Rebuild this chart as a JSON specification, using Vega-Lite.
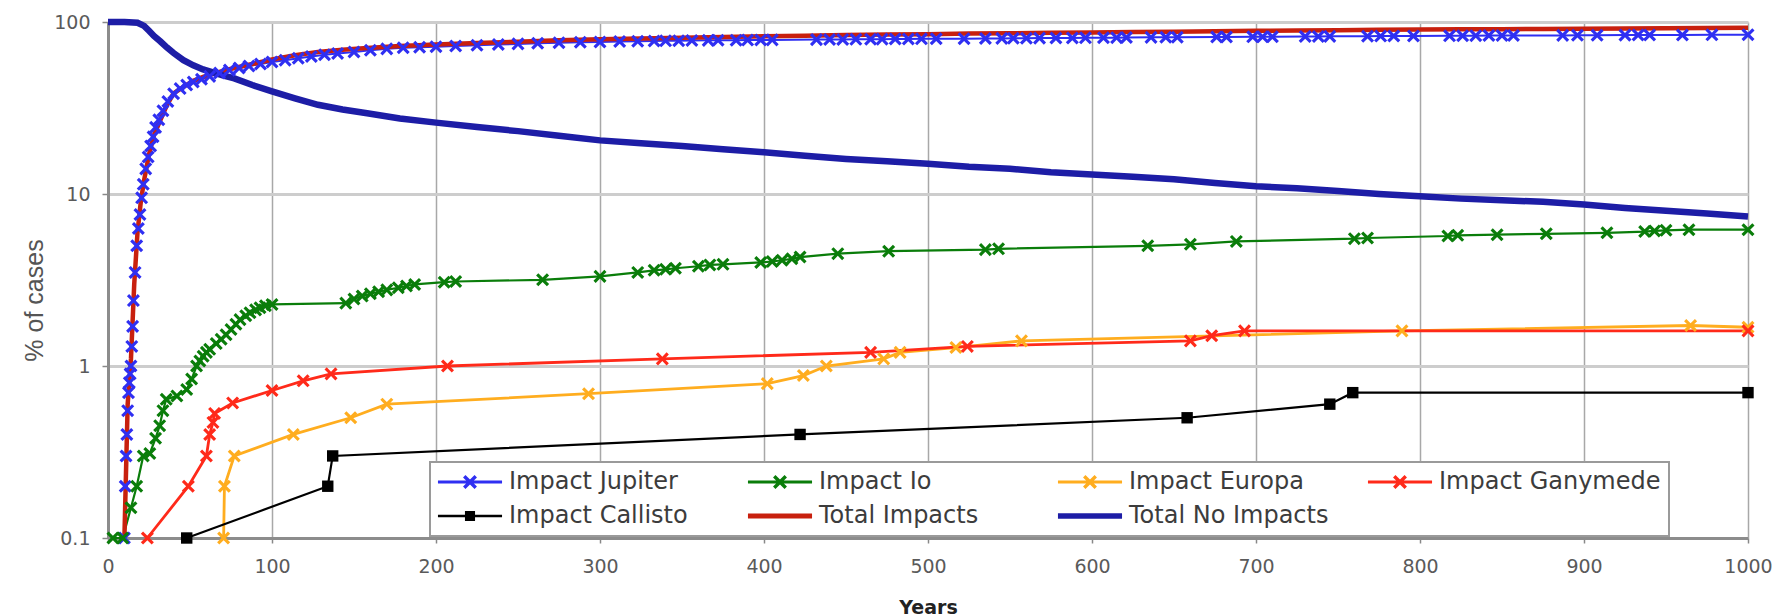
{
  "$schema": "https://vega.github.io/schema/vega-lite/v6.json",
  "autosize": "none",
  "width": 1640,
  "height": 516,
  "padding": {"left": 108, "top": 22, "right": 38, "bottom": 78},
  "background": "white",
  "config": {"view": {"stroke": null}},
  "data": {"values": [
    {"series":"Impact Jupiter","year":10,"pct":0.1},{"series":"Impact Jupiter","year":10.5,"pct":0.2},{"series":"Impact Jupiter","year":11,"pct":0.3},{"series":"Impact Jupiter","year":11.5,"pct":0.4},{"series":"Impact Jupiter","year":12,"pct":0.55},{"series":"Impact Jupiter","year":12.5,"pct":0.7},{"series":"Impact Jupiter","year":13,"pct":0.8},{"series":"Impact Jupiter","year":13.5,"pct":0.9},{"series":"Impact Jupiter","year":14,"pct":1.0},{"series":"Impact Jupiter","year":14.5,"pct":1.3},{"series":"Impact Jupiter","year":15,"pct":1.7},{"series":"Impact Jupiter","year":15.5,"pct":2.4},{"series":"Impact Jupiter","year":16.5,"pct":3.5},{"series":"Impact Jupiter","year":17.5,"pct":5},{"series":"Impact Jupiter","year":18.5,"pct":6.3},{"series":"Impact Jupiter","year":19.5,"pct":7.6},{"series":"Impact Jupiter","year":20.5,"pct":9.5},{"series":"Impact Jupiter","year":21.5,"pct":11.4},{"series":"Impact Jupiter","year":23,"pct":14},{"series":"Impact Jupiter","year":24.5,"pct":16.4},{"series":"Impact Jupiter","year":26,"pct":19},{"series":"Impact Jupiter","year":27.5,"pct":21.5},{"series":"Impact Jupiter","year":29,"pct":24.4},{"series":"Impact Jupiter","year":31,"pct":27},{"series":"Impact Jupiter","year":33.5,"pct":30.5},{"series":"Impact Jupiter","year":36.5,"pct":34.5},{"series":"Impact Jupiter","year":40,"pct":38.3},{"series":"Impact Jupiter","year":44,"pct":41},{"series":"Impact Jupiter","year":48,"pct":43},{"series":"Impact Jupiter","year":52,"pct":44.8},{"series":"Impact Jupiter","year":57,"pct":46.5},{"series":"Impact Jupiter","year":62,"pct":48.3},{"series":"Impact Jupiter","year":68,"pct":50.5},{"series":"Impact Jupiter","year":74,"pct":52.5},{"series":"Impact Jupiter","year":80,"pct":54},{"series":"Impact Jupiter","year":86,"pct":55.5},{"series":"Impact Jupiter","year":93,"pct":57},{"series":"Impact Jupiter","year":100,"pct":58.5},{"series":"Impact Jupiter","year":108,"pct":60},{"series":"Impact Jupiter","year":116,"pct":61.5},{"series":"Impact Jupiter","year":124,"pct":63},{"series":"Impact Jupiter","year":132,"pct":64.5},{"series":"Impact Jupiter","year":140,"pct":65.6},{"series":"Impact Jupiter","year":150,"pct":67},{"series":"Impact Jupiter","year":160,"pct":68.5},{"series":"Impact Jupiter","year":170,"pct":69.8},{"series":"Impact Jupiter","year":180,"pct":70.8},{"series":"Impact Jupiter","year":190,"pct":71.3},{"series":"Impact Jupiter","year":200,"pct":71.8},{"series":"Impact Jupiter","year":212,"pct":72.5},{"series":"Impact Jupiter","year":225,"pct":73.3},{"series":"Impact Jupiter","year":238,"pct":74},{"series":"Impact Jupiter","year":250,"pct":74.6},{"series":"Impact Jupiter","year":262,"pct":75.2},{"series":"Impact Jupiter","year":275,"pct":75.8},{"series":"Impact Jupiter","year":288,"pct":76.2},{"series":"Impact Jupiter","year":300,"pct":76.5},{"series":"Impact Jupiter","year":312,"pct":77},{"series":"Impact Jupiter","year":323,"pct":77.3},{"series":"Impact Jupiter","year":333,"pct":77.6},{"series":"Impact Jupiter","year":340,"pct":77.7},{"series":"Impact Jupiter","year":348,"pct":77.8},{"series":"Impact Jupiter","year":356,"pct":78},{"series":"Impact Jupiter","year":366,"pct":78.2},{"series":"Impact Jupiter","year":372,"pct":78.3},{"series":"Impact Jupiter","year":383,"pct":78.4},{"series":"Impact Jupiter","year":390,"pct":78.5},{"series":"Impact Jupiter","year":398,"pct":78.6},{"series":"Impact Jupiter","year":405,"pct":78.7},{"series":"Impact Jupiter","year":432,"pct":79},{"series":"Impact Jupiter","year":440,"pct":79.1},{"series":"Impact Jupiter","year":448,"pct":79.2},{"series":"Impact Jupiter","year":456,"pct":79.3},{"series":"Impact Jupiter","year":465,"pct":79.4},{"series":"Impact Jupiter","year":472,"pct":79.5},{"series":"Impact Jupiter","year":480,"pct":79.6},{"series":"Impact Jupiter","year":488,"pct":79.7},{"series":"Impact Jupiter","year":496,"pct":79.8},{"series":"Impact Jupiter","year":505,"pct":79.9},{"series":"Impact Jupiter","year":522,"pct":80},{"series":"Impact Jupiter","year":535,"pct":80.2},{"series":"Impact Jupiter","year":545,"pct":80.3},{"series":"Impact Jupiter","year":552,"pct":80.4},{"series":"Impact Jupiter","year":560,"pct":80.5},{"series":"Impact Jupiter","year":568,"pct":80.6},{"series":"Impact Jupiter","year":578,"pct":80.7},{"series":"Impact Jupiter","year":588,"pct":80.8},{"series":"Impact Jupiter","year":596,"pct":80.9},{"series":"Impact Jupiter","year":607,"pct":81},{"series":"Impact Jupiter","year":615,"pct":81.1},{"series":"Impact Jupiter","year":621,"pct":81.2},{"series":"Impact Jupiter","year":636,"pct":81.4},{"series":"Impact Jupiter","year":645,"pct":81.5},{"series":"Impact Jupiter","year":652,"pct":81.6},{"series":"Impact Jupiter","year":676,"pct":81.8},{"series":"Impact Jupiter","year":682,"pct":81.8},{"series":"Impact Jupiter","year":698,"pct":82},{"series":"Impact Jupiter","year":704,"pct":82},{"series":"Impact Jupiter","year":710,"pct":82.1},{"series":"Impact Jupiter","year":730,"pct":82.3},{"series":"Impact Jupiter","year":738,"pct":82.4},{"series":"Impact Jupiter","year":745,"pct":82.5},{"series":"Impact Jupiter","year":768,"pct":82.7},{"series":"Impact Jupiter","year":776,"pct":82.8},{"series":"Impact Jupiter","year":784,"pct":82.9},{"series":"Impact Jupiter","year":796,"pct":83},{"series":"Impact Jupiter","year":818,"pct":83.1},{"series":"Impact Jupiter","year":826,"pct":83.2},{"series":"Impact Jupiter","year":834,"pct":83.3},{"series":"Impact Jupiter","year":842,"pct":83.4},{"series":"Impact Jupiter","year":850,"pct":83.4},{"series":"Impact Jupiter","year":857,"pct":83.5},{"series":"Impact Jupiter","year":887,"pct":83.6},{"series":"Impact Jupiter","year":896,"pct":83.7},{"series":"Impact Jupiter","year":908,"pct":83.8},{"series":"Impact Jupiter","year":925,"pct":83.9},{"series":"Impact Jupiter","year":933,"pct":84},{"series":"Impact Jupiter","year":940,"pct":84},{"series":"Impact Jupiter","year":960,"pct":84.1},{"series":"Impact Jupiter","year":978,"pct":84.2},{"series":"Impact Jupiter","year":1000,"pct":84.3},

    {"series":"Impact Io","year":3,"pct":0.1},{"series":"Impact Io","year":9,"pct":0.1},{"series":"Impact Io","year":14,"pct":0.15},{"series":"Impact Io","year":17.5,"pct":0.2},{"series":"Impact Io","year":21.5,"pct":0.3},{"series":"Impact Io","year":25.5,"pct":0.31},{"series":"Impact Io","year":29,"pct":0.38},{"series":"Impact Io","year":31.5,"pct":0.45},{"series":"Impact Io","year":33.5,"pct":0.55},{"series":"Impact Io","year":35.5,"pct":0.64},{"series":"Impact Io","year":42,"pct":0.67},{"series":"Impact Io","year":48,"pct":0.73},{"series":"Impact Io","year":51,"pct":0.84},{"series":"Impact Io","year":54,"pct":1.0},{"series":"Impact Io","year":56,"pct":1.07},{"series":"Impact Io","year":58,"pct":1.14},{"series":"Impact Io","year":60,"pct":1.2},{"series":"Impact Io","year":62,"pct":1.25},{"series":"Impact Io","year":66,"pct":1.35},{"series":"Impact Io","year":69,"pct":1.43},{"series":"Impact Io","year":72,"pct":1.52},{"series":"Impact Io","year":75,"pct":1.63},{"series":"Impact Io","year":78,"pct":1.75},{"series":"Impact Io","year":80.5,"pct":1.86},{"series":"Impact Io","year":84,"pct":1.96},{"series":"Impact Io","year":86.6,"pct":2.04},{"series":"Impact Io","year":90,"pct":2.12},{"series":"Impact Io","year":92.7,"pct":2.18},{"series":"Impact Io","year":96,"pct":2.24},{"series":"Impact Io","year":100,"pct":2.28},{"series":"Impact Io","year":145,"pct":2.32},{"series":"Impact Io","year":150,"pct":2.45},{"series":"Impact Io","year":155,"pct":2.55},{"series":"Impact Io","year":160,"pct":2.63},{"series":"Impact Io","year":165,"pct":2.7},{"series":"Impact Io","year":170,"pct":2.77},{"series":"Impact Io","year":177,"pct":2.85},{"series":"Impact Io","year":182,"pct":2.92},{"series":"Impact Io","year":187,"pct":2.98},{"series":"Impact Io","year":205,"pct":3.07},{"series":"Impact Io","year":212,"pct":3.1},{"series":"Impact Io","year":265,"pct":3.17},{"series":"Impact Io","year":300,"pct":3.32},{"series":"Impact Io","year":323,"pct":3.5},{"series":"Impact Io","year":333,"pct":3.6},{"series":"Impact Io","year":340,"pct":3.65},{"series":"Impact Io","year":346,"pct":3.7},{"series":"Impact Io","year":360,"pct":3.8},{"series":"Impact Io","year":367,"pct":3.87},{"series":"Impact Io","year":375,"pct":3.9},{"series":"Impact Io","year":398,"pct":4.0},{"series":"Impact Io","year":405,"pct":4.05},{"series":"Impact Io","year":411,"pct":4.12},{"series":"Impact Io","year":417,"pct":4.2},{"series":"Impact Io","year":422,"pct":4.3},{"series":"Impact Io","year":445,"pct":4.5},{"series":"Impact Io","year":476,"pct":4.65},{"series":"Impact Io","year":535,"pct":4.75},{"series":"Impact Io","year":543,"pct":4.8},{"series":"Impact Io","year":634,"pct":5.0},{"series":"Impact Io","year":660,"pct":5.1},{"series":"Impact Io","year":688,"pct":5.3},{"series":"Impact Io","year":760,"pct":5.5},{"series":"Impact Io","year":768,"pct":5.55},{"series":"Impact Io","year":817,"pct":5.7},{"series":"Impact Io","year":823,"pct":5.75},{"series":"Impact Io","year":847,"pct":5.8},{"series":"Impact Io","year":877,"pct":5.87},{"series":"Impact Io","year":914,"pct":5.95},{"series":"Impact Io","year":937,"pct":6.05},{"series":"Impact Io","year":943,"pct":6.1},{"series":"Impact Io","year":950,"pct":6.15},{"series":"Impact Io","year":964,"pct":6.2},{"series":"Impact Io","year":1000,"pct":6.2},

    {"series":"Impact Europa","year":70.5,"pct":0.1},{"series":"Impact Europa","year":71,"pct":0.2},{"series":"Impact Europa","year":77,"pct":0.3},{"series":"Impact Europa","year":113,"pct":0.4},{"series":"Impact Europa","year":148,"pct":0.5},{"series":"Impact Europa","year":170,"pct":0.6},{"series":"Impact Europa","year":293,"pct":0.69},{"series":"Impact Europa","year":402,"pct":0.79},{"series":"Impact Europa","year":424,"pct":0.88},{"series":"Impact Europa","year":438,"pct":1.0},{"series":"Impact Europa","year":473,"pct":1.1},{"series":"Impact Europa","year":483,"pct":1.2},{"series":"Impact Europa","year":517,"pct":1.28},{"series":"Impact Europa","year":557,"pct":1.4},{"series":"Impact Europa","year":789,"pct":1.6},{"series":"Impact Europa","year":965,"pct":1.72},{"series":"Impact Europa","year":1000,"pct":1.68},

    {"series":"Impact Ganymede","year":24,"pct":0.1},{"series":"Impact Ganymede","year":49,"pct":0.2},{"series":"Impact Ganymede","year":60,"pct":0.3},{"series":"Impact Ganymede","year":62,"pct":0.4},{"series":"Impact Ganymede","year":64,"pct":0.47},{"series":"Impact Ganymede","year":65,"pct":0.53},{"series":"Impact Ganymede","year":76,"pct":0.61},{"series":"Impact Ganymede","year":100,"pct":0.72},{"series":"Impact Ganymede","year":119,"pct":0.82},{"series":"Impact Ganymede","year":136,"pct":0.9},{"series":"Impact Ganymede","year":207,"pct":1.0},{"series":"Impact Ganymede","year":338,"pct":1.1},{"series":"Impact Ganymede","year":465,"pct":1.2},{"series":"Impact Ganymede","year":524,"pct":1.3},{"series":"Impact Ganymede","year":660,"pct":1.4},{"series":"Impact Ganymede","year":673,"pct":1.5},{"series":"Impact Ganymede","year":693,"pct":1.6},{"series":"Impact Ganymede","year":1000,"pct":1.6},

    {"series":"Impact Callisto","year":48,"pct":0.1},{"series":"Impact Callisto","year":134,"pct":0.2},{"series":"Impact Callisto","year":137,"pct":0.3},{"series":"Impact Callisto","year":422,"pct":0.4},{"series":"Impact Callisto","year":658,"pct":0.5},{"series":"Impact Callisto","year":745,"pct":0.6},{"series":"Impact Callisto","year":759,"pct":0.7},{"series":"Impact Callisto","year":1000,"pct":0.7},

    {"series":"Total Impacts","year":10,"pct":0.1},{"series":"Total Impacts","year":12,"pct":0.6},{"series":"Total Impacts","year":14,"pct":1.1},{"series":"Total Impacts","year":16,"pct":3},{"series":"Total Impacts","year":18,"pct":6},{"series":"Total Impacts","year":20,"pct":9},{"series":"Total Impacts","year":22,"pct":12},{"series":"Total Impacts","year":25,"pct":17},{"series":"Total Impacts","year":28,"pct":22},{"series":"Total Impacts","year":32,"pct":27},{"series":"Total Impacts","year":36,"pct":33},{"series":"Total Impacts","year":40,"pct":38.5},{"series":"Total Impacts","year":46,"pct":42},{"series":"Total Impacts","year":52,"pct":45.5},{"series":"Total Impacts","year":58,"pct":48},{"series":"Total Impacts","year":64,"pct":50},{"series":"Total Impacts","year":70,"pct":52},{"series":"Total Impacts","year":77,"pct":54},{"series":"Total Impacts","year":88,"pct":57},{"series":"Total Impacts","year":100,"pct":60.5},{"series":"Total Impacts","year":114,"pct":64},{"series":"Total Impacts","year":128,"pct":67},{"series":"Total Impacts","year":143,"pct":69},{"series":"Total Impacts","year":158,"pct":70.5},{"series":"Total Impacts","year":178,"pct":72.5},{"series":"Total Impacts","year":200,"pct":74},{"series":"Total Impacts","year":225,"pct":75.5},{"series":"Total Impacts","year":250,"pct":76.8},{"series":"Total Impacts","year":275,"pct":78.2},{"series":"Total Impacts","year":300,"pct":79.5},{"series":"Total Impacts","year":325,"pct":80.3},{"series":"Total Impacts","year":350,"pct":81},{"series":"Total Impacts","year":375,"pct":81.8},{"series":"Total Impacts","year":400,"pct":82.5},{"series":"Total Impacts","year":425,"pct":83.3},{"series":"Total Impacts","year":450,"pct":84},{"series":"Total Impacts","year":475,"pct":84.5},{"series":"Total Impacts","year":500,"pct":85},{"series":"Total Impacts","year":525,"pct":85.6},{"series":"Total Impacts","year":550,"pct":86},{"series":"Total Impacts","year":575,"pct":86.6},{"series":"Total Impacts","year":600,"pct":87},{"series":"Total Impacts","year":625,"pct":87.4},{"series":"Total Impacts","year":650,"pct":87.8},{"series":"Total Impacts","year":675,"pct":88.4},{"series":"Total Impacts","year":700,"pct":88.9},{"series":"Total Impacts","year":725,"pct":89.2},{"series":"Total Impacts","year":750,"pct":89.6},{"series":"Total Impacts","year":775,"pct":90},{"series":"Total Impacts","year":800,"pct":90.3},{"series":"Total Impacts","year":825,"pct":90.6},{"series":"Total Impacts","year":850,"pct":90.8},{"series":"Total Impacts","year":875,"pct":91},{"series":"Total Impacts","year":900,"pct":91.3},{"series":"Total Impacts","year":925,"pct":91.7},{"series":"Total Impacts","year":950,"pct":92},{"series":"Total Impacts","year":975,"pct":92.3},{"series":"Total Impacts","year":1000,"pct":92.6},

    {"series":"Total No Impacts","year":0,"pct":100},{"series":"Total No Impacts","year":10,"pct":100},{"series":"Total No Impacts","year":18,"pct":99},{"series":"Total No Impacts","year":22,"pct":95},{"series":"Total No Impacts","year":25,"pct":89},{"series":"Total No Impacts","year":28,"pct":83},{"series":"Total No Impacts","year":32,"pct":77},{"series":"Total No Impacts","year":36,"pct":71},{"series":"Total No Impacts","year":40,"pct":66},{"series":"Total No Impacts","year":46,"pct":60},{"series":"Total No Impacts","year":52,"pct":56},{"series":"Total No Impacts","year":58,"pct":53},{"series":"Total No Impacts","year":64,"pct":51},{"series":"Total No Impacts","year":70,"pct":49},{"series":"Total No Impacts","year":77,"pct":47},{"series":"Total No Impacts","year":88,"pct":43},{"series":"Total No Impacts","year":100,"pct":39.5},{"series":"Total No Impacts","year":114,"pct":36},{"series":"Total No Impacts","year":128,"pct":33},{"series":"Total No Impacts","year":143,"pct":31},{"series":"Total No Impacts","year":158,"pct":29.5},{"series":"Total No Impacts","year":178,"pct":27.5},{"series":"Total No Impacts","year":200,"pct":26},{"series":"Total No Impacts","year":225,"pct":24.5},{"series":"Total No Impacts","year":250,"pct":23.2},{"series":"Total No Impacts","year":275,"pct":21.8},{"series":"Total No Impacts","year":300,"pct":20.5},{"series":"Total No Impacts","year":325,"pct":19.7},{"series":"Total No Impacts","year":350,"pct":19},{"series":"Total No Impacts","year":375,"pct":18.2},{"series":"Total No Impacts","year":400,"pct":17.5},{"series":"Total No Impacts","year":425,"pct":16.7},{"series":"Total No Impacts","year":450,"pct":16},{"series":"Total No Impacts","year":475,"pct":15.5},{"series":"Total No Impacts","year":500,"pct":15},{"series":"Total No Impacts","year":525,"pct":14.4},{"series":"Total No Impacts","year":550,"pct":14},{"series":"Total No Impacts","year":575,"pct":13.4},{"series":"Total No Impacts","year":600,"pct":13},{"series":"Total No Impacts","year":625,"pct":12.6},{"series":"Total No Impacts","year":650,"pct":12.2},{"series":"Total No Impacts","year":675,"pct":11.6},{"series":"Total No Impacts","year":700,"pct":11.1},{"series":"Total No Impacts","year":725,"pct":10.8},{"series":"Total No Impacts","year":750,"pct":10.4},{"series":"Total No Impacts","year":775,"pct":10},{"series":"Total No Impacts","year":800,"pct":9.7},{"series":"Total No Impacts","year":825,"pct":9.4},{"series":"Total No Impacts","year":850,"pct":9.2},{"series":"Total No Impacts","year":875,"pct":9},{"series":"Total No Impacts","year":900,"pct":8.7},{"series":"Total No Impacts","year":925,"pct":8.3},{"series":"Total No Impacts","year":950,"pct":8},{"series":"Total No Impacts","year":975,"pct":7.7},{"series":"Total No Impacts","year":1000,"pct":7.4}
  ]},
  "encoding": {
    "x": {"field": "year", "type": "quantitative",
      "scale": {"domain": [0, 1000], "nice": false, "zero": false},
      "axis": {"values": [0,100,200,300,400,500,600,700,800,900,1000], "format": "d", "title": "Years",
        "grid": true, "gridColor": "#a8a8a8", "gridWidth": 1.5,
        "domainColor": "#8c8c8c", "domainWidth": 3, "tickColor": "#888", "tickSize": 5, "tickWidth": 1.5,
        "labelFont": "DejaVu Sans", "labelFontSize": 19, "labelColor": "#5a5a5a", "labelPadding": 14,
        "labelFlush": false, "labelOverlap": false,
        "titleFont": "DejaVu Sans", "titleFontSize": 19, "titleFontWeight": "bold", "titleColor": "#222",
        "titleX": 820, "titleY": 69, "titleBaseline": "middle", "titleAlign": "center"}},
    "y": {"field": "pct", "type": "quantitative",
      "scale": {"type": "log", "domain": [0.1, 100], "nice": false},
      "axis": {"values": [0.1, 1, 10, 100], "format": "~g", "title": "% of cases",
        "grid": true, "gridColor": "#cdcdcd", "gridWidth": 3,
        "domainColor": "#8c8c8c", "domainWidth": 3, "tickColor": "#888", "tickSize": 6, "tickWidth": 1.5,
        "labelFont": "DejaVu Sans", "labelFontSize": 19, "labelColor": "#5a5a5a", "labelPadding": 12,
        "titleFont": "Liberation Sans", "titleFontSize": 25, "titleFontWeight": "normal", "titleColor": "#555",
        "titleX": -74, "titleY": 278, "titleAngle": -90, "titleBaseline": "middle", "titleAlign": "center"}}
  },
  "layer": [
    {
      "mark": {"type": "line", "clip": false},
      "encoding": {
        "color": {"field": "series", "type": "nominal",
          "scale": {"domain": ["Impact Jupiter","Impact Io","Impact Europa","Impact Ganymede","Impact Callisto","Total Impacts","Total No Impacts"],
                    "range": ["#2f2ff2","#0a7d0a","#ffad1f","#ff2a1a","#000000","#c8200e","#1d1da6"]}},
        "strokeWidth": {"field": "series", "type": "nominal", "legend": null,
          "scale": {"type": "ordinal", "domain": ["Total No Impacts","Total Impacts","Impact Callisto","Impact Ganymede","Impact Europa","Impact Io","Impact Jupiter"],
                    "range": [6.5, 4.5, 2.2, 2.8, 2.8, 2.2, 2]}}
      }
    },
    {
      "transform": [{"filter": {"field": "series", "oneOf": ["Impact Jupiter","Impact Io","Impact Europa","Impact Ganymede"]}}],
      "mark": {"type": "point", "filled": true, "opacity": 1, "clip": false, "size": 170,
        "shape": "M-1,-0.66L-0.66,-1L0,-0.34L0.66,-1L1,-0.66L0.34,0L1,0.66L0.66,1L0,0.34L-0.66,1L-1,0.66L-0.34,0Z"},
      "encoding": {
        "color": {"field": "series", "type": "nominal"}
      }
    },
    {
      "transform": [{"filter": {"field": "series", "equal": "Impact Callisto"}}],
      "mark": {"type": "point", "filled": true, "opacity": 1, "clip": false, "size": 130, "shape": "square"},
      "encoding": {
        "color": {"field": "series", "type": "nominal"}
      }
    },
    {
      "mark": {"type": "point", "filled": true, "opacity": 0, "size": 576},
      "encoding": {
        "color": {"field": "series", "type": "nominal",
          "legend": {"orient": "none", "legendX": 322, "legendY": 440, "columns": 4, "direction": "horizontal",
            "title": null, "gridAlign": "all", "columnPadding": 16, "rowPadding": 10, "padding": 8,
            "symbolSize": 576, "symbolStrokeWidth": 0, "symbolOffset": 20, "labelOffset": 27,
            "labelFont": "DejaVu Sans", "labelFontSize": 24, "labelColor": "#3c3c3c", "labelLimit": 400,
            "fillColor": "white", "strokeColor": "#9a9a9a",
            "encode": {
              "symbols": {"update": {"fill": {"scale": "color", "field": "value"}, "stroke": {"value": "transparent"}, "strokeWidth": {"value": 0}, "opacity": {"value": 1}, "fillOpacity": {"value": 1}}},
              "legend": {"update": {"strokeWidth": {"value": 2}}}
            }}},
        "shape": {"field": "series", "type": "nominal",
          "scale": {"domain": ["Impact Jupiter","Impact Io","Impact Europa","Impact Ganymede","Impact Callisto","Total Impacts","Total No Impacts"],
            "range": [
              "M-2.67,-0.125H2.67V0.125H-2.67ZM-0.58,-0.38L-0.38,-0.58L0,-0.2L0.38,-0.58L0.58,-0.38L0.2,0L0.58,0.38L0.38,0.58L0,0.2L-0.38,0.58L-0.58,0.38L-0.2,0Z",
              "M-2.67,-0.125H2.67V0.125H-2.67ZM-0.58,-0.38L-0.38,-0.58L0,-0.2L0.38,-0.58L0.58,-0.38L0.2,0L0.58,0.38L0.38,0.58L0,0.2L-0.38,0.58L-0.58,0.38L-0.2,0Z",
              "M-2.67,-0.125H2.67V0.125H-2.67ZM-0.58,-0.38L-0.38,-0.58L0,-0.2L0.38,-0.58L0.58,-0.38L0.2,0L0.58,0.38L0.38,0.58L0,0.2L-0.38,0.58L-0.58,0.38L-0.2,0Z",
              "M-2.67,-0.125H2.67V0.125H-2.67ZM-0.58,-0.38L-0.38,-0.58L0,-0.2L0.38,-0.58L0.58,-0.38L0.2,0L0.58,0.38L0.38,0.58L0,0.2L-0.38,0.58L-0.58,0.38L-0.2,0Z",
              "M-2.67,-0.1H2.67V0.1H-2.67ZM-0.42,-0.42H0.42V0.42H-0.42Z",
              "M-2.67,-0.2H2.67V0.2H-2.67Z",
              "M-2.67,-0.22H2.67V0.22H-2.67Z"
            ]},
          "legend": {"orient": "none", "legendX": 322, "legendY": 440, "columns": 4, "direction": "horizontal",
            "title": null, "gridAlign": "all", "columnPadding": 16, "rowPadding": 10, "padding": 8,
            "symbolSize": 576, "symbolStrokeWidth": 0, "symbolOffset": 20, "labelOffset": 27,
            "labelFont": "DejaVu Sans", "labelFontSize": 24, "labelColor": "#3c3c3c", "labelLimit": 400,
            "fillColor": "white", "strokeColor": "#9a9a9a"}}
      }
    }
  ]
}
